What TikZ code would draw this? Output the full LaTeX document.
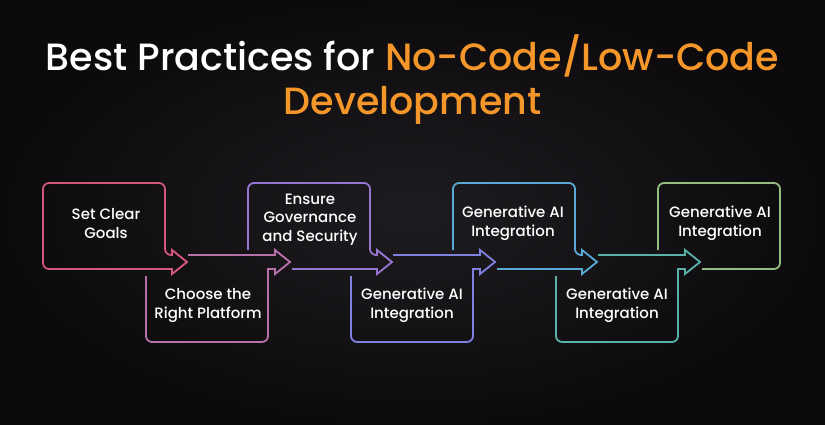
\documentclass[tikz,border=0pt]{standalone}
\usepackage{fontspec}
\setmainfont{Poppins}
\newfontfamily\medfont{Poppins Medium}
\begin{document}
\begin{tikzpicture}[x=1pt,y=-1pt,
  stepline/.style={line width=1.8pt, line join=miter},
  steptext/.style={text=white, align=center, font=\medfont\fontsize{15}{18.6}\selectfont, inner sep=0pt},
  rc/.style={rounded corners=6pt}]
\definecolor{bg}{RGB}{12,10,12}
\definecolor{bgmid}{RGB}{30,28,32}
\definecolor{ttlorange}{RGB}{245,150,42}
\definecolor{cA}{RGB}{212,86,122}
\definecolor{cB}{RGB}{184,112,170}
\definecolor{cC}{RGB}{150,118,208}
\definecolor{cD}{RGB}{128,128,222}
\definecolor{cE}{RGB}{88,170,212}
\definecolor{cF}{RGB}{88,178,168}
\definecolor{cG}{RGB}{148,190,128}
\useasboundingbox (0,0) rectangle (825,425);
\shade[inner color=bgmid, outer color=bg] (0,0) rectangle (825,425);
% title
\node[font=\medfont\fontsize{38}{44}\selectfont, text=white, inner sep=0pt, anchor=base] (t1) at (412.5,71) {Best Practices for \textcolor{ttlorange}{No-Code/Low-Code}};
\node[font=\medfont\fontsize{38}{44}\selectfont, text=ttlorange, inner sep=0pt, anchor=base] (t2) at (412.5,115) {Development};
% box 1 (top)
\draw[stepline,cA] (172,269) [rc]-- (43,269) -- (43,183) -- (165,183) -- (165,255) [sharp corners]-- (172,255) -- (172,250) -- (187,262) -- (172,274) -- cycle;
% box 2 (bottom)
\draw[stepline,cB] (188,255) -- (275,255) -- (275,250) -- (290,262) -- (275,274) -- (275,269) -- (268,269) [rc]-- (268,342) -- (146,342) -- (146,276);
% box 3 (top)
\draw[stepline,cC] (248,250) [rc]-- (248,183) -- (370,183) -- (370,255) [sharp corners]-- (377,255) -- (377,250) -- (392,262) -- (377,274) -- (377,269) -- (292,269);
% box 4 (bottom)
\draw[stepline,cD] (393,255) -- (480,255) -- (480,250) -- (495,262) -- (480,274) -- (480,269) -- (473,269) [rc]-- (473,342) -- (351,342) -- (351,276);
% box 5 (top)
\draw[stepline,cE] (453,250) [rc]-- (453,183) -- (575,183) -- (575,255) [sharp corners]-- (582,255) -- (582,250) -- (597,262) -- (582,274) -- (582,269) -- (497,269);
% box 6 (bottom)
\draw[stepline,cF] (598,255) -- (685,255) -- (685,250) -- (700,262) -- (685,274) -- (685,269) -- (678,269) [rc]-- (678,342) -- (556,342) -- (556,276);
% box 7 (top)
\draw[stepline,cG] (658,250) [rc]-- (658,183) -- (780,183) -- (780,269) -- (702,269);
% texts
\node[steptext] (s1) at (106,223.5) {Set Clear\\Goals};
\node[steptext] (s2) at (208,305.5) {Choose the\\Right Platform};
\node[steptext] (s3) at (310,219.5) {Ensure\\Governance\\and Security};
\node[steptext] (s4) at (412,305.5) {Generative AI\\Integration};
\node[steptext] (s5) at (513,223.5) {Generative AI\\Integration};
\node[steptext] (s6) at (617,305.5) {Generative AI\\Integration};
\node[steptext] (s7) at (720,223.5) {Generative AI\\Integration};
\end{tikzpicture}
\end{document}
